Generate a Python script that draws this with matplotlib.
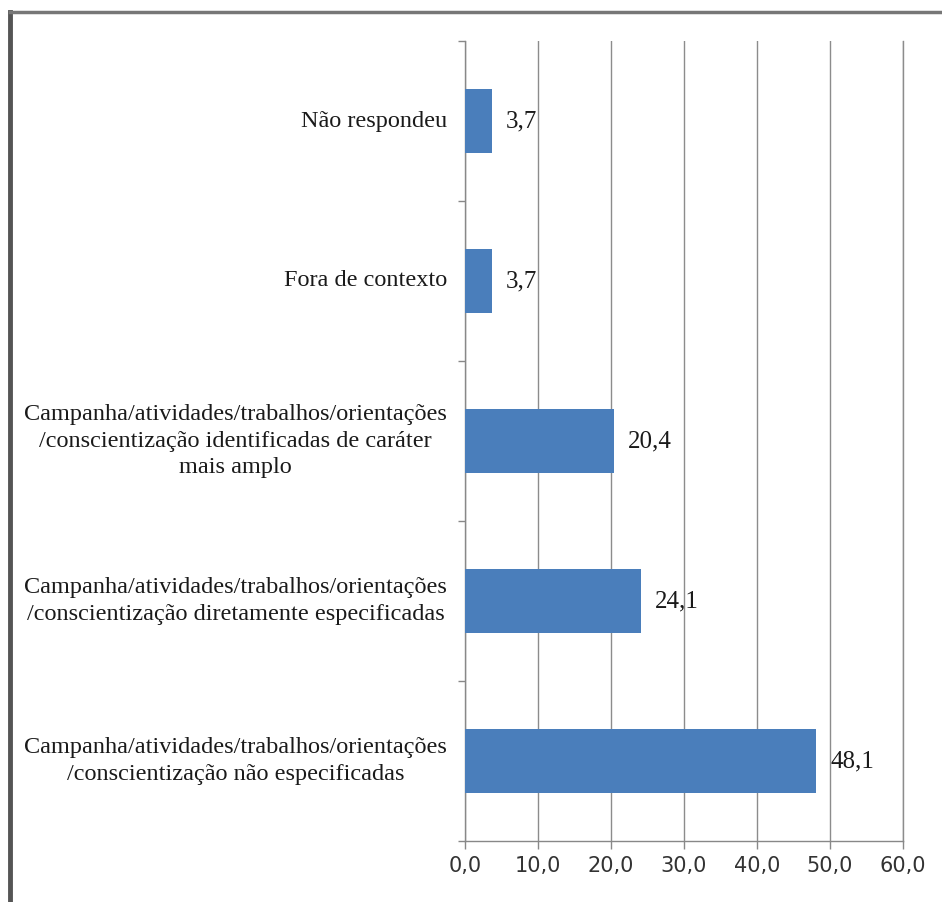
import matplotlib.pyplot as plt
from matplotlib.lines import Line2D

# categories from bottom to top
categorias = [
    'Campanha/atividades/trabalhos/orientações\n/conscientização não especificadas',
    'Campanha/atividades/trabalhos/orientações\n/conscientização diretamente especificadas',
    'Campanha/atividades/trabalhos/orientações\n/conscientização identificadas de caráter\nmais amplo',
    'Fora de contexto',
    'Não respondeu',
]
valores = [48.1, 24.1, 20.4, 3.7, 3.7]
xticks = [0, 10, 20, 30, 40, 50, 60]

fig = plt.figure(figsize=(9.42, 9.02), dpi=100)
ax = fig.add_axes([465 / 942, 1 - 841 / 902, 438 / 942, 800 / 902])

pos = list(range(len(categorias)))
ax.barh(pos, valores, height=0.4, color='#4a7ebb', zorder=3)
ax.set_xlim(0, 60)
ax.set_ylim(-0.5, len(categorias) - 0.5)

ax.set_xticks(xticks)
ax.set_xticklabels([f'{v:.1f}'.replace('.', ',') for v in xticks],
                   fontsize=15, family='DejaVu Sans', color='#333333')
ax.tick_params(axis='x', length=6, width=1, color='#888888', pad=5)
ax.grid(axis='x', color='#8c8c8c', linewidth=1, zorder=0)
ax.axvline(60, color='#8c8c8c', linewidth=1, clip_on=False, zorder=0)

# y axis: labels right-aligned next to the axis, ticks at category boundaries
ax.set_yticks(pos)
ax.set_yticklabels([])
ax.tick_params(axis='y', length=0)
ax.set_yticks([p - 0.5 for p in pos] + [len(pos) - 0.5], minor=True)
ax.tick_params(axis='y', which='minor', length=5, width=1, color='#888888')
for p, lab in zip(pos, categorias):
    ax.text(-18 / 438, p, lab, transform=ax.get_yaxis_transform(),
            ha='right', va='center', multialignment='center',
            fontsize=17.5, family='Liberation Serif',
            color='#1a1a1a', linespacing=1.32)

for spine in ['top', 'right']:
    ax.spines[spine].set_visible(False)
for spine in ['left', 'bottom']:
    ax.spines[spine].set_color('#888888')
    ax.spines[spine].set_linewidth(1)

# data labels
for p, v in zip(pos, valores):
    ax.annotate(f'{v:.1f}'.replace('.', ','), xy=(v, p), xytext=(10, 0),
                textcoords='offset points', va='center', ha='left',
                fontsize=18, family='Liberation Serif', color='#1a1a1a')

# frame of the original picture (left and top edges)
fig.add_artist(Line2D([10 / 942, 10 / 942], [0, 1 - 12 / 902], color='#555555', lw=3.5,
                      transform=fig.transFigure))
fig.add_artist(Line2D([10 / 942, 1], [1 - 12 / 902, 1 - 12 / 902], color='#777777', lw=2.5,
                      transform=fig.transFigure))

plt.savefig('out.png', dpi=100)
